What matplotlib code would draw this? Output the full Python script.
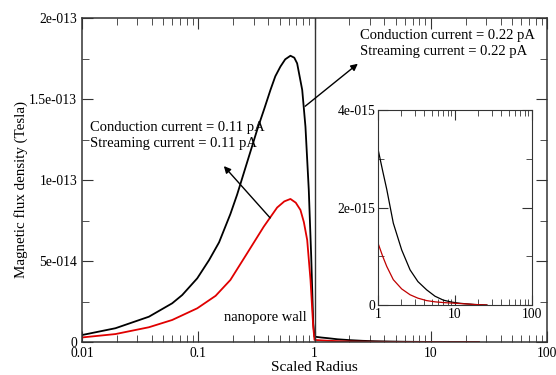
import numpy as np
import matplotlib
matplotlib.use('Agg')
import matplotlib.pyplot as plt
from matplotlib.ticker import FixedLocator, LogLocator, NullFormatter

# scaled radius inside the pore (0.01 .. 1)
r_hi_in = [0.01, 0.0194, 0.0376, 0.0597, 0.0728, 0.098, 0.124, 0.151, 0.189, 0.216,
           0.246, 0.321, 0.37, 0.418, 0.46, 0.509, 0.56, 0.621, 0.67, 0.709, 0.784,
           0.836, 0.893, 0.937, 0.975, 1.0]
b_hi_in = [0.043, 0.085, 0.156, 0.239, 0.290, 0.393, 0.506, 0.615, 0.79, 0.91,
           1.041, 1.309, 1.44, 1.556, 1.64, 1.70, 1.745, 1.767, 1.755, 1.72, 1.556,
           1.329, 0.938, 0.527, 0.115, 0.033]  # x 1e-13 T
r_lo_in = [0.01, 0.0194, 0.0376, 0.0597, 0.098, 0.141, 0.189, 0.263, 0.366, 0.477,
           0.55, 0.621, 0.69, 0.757, 0.81, 0.865, 0.924, 0.975, 1.0]
b_lo_in = [0.028, 0.049, 0.091, 0.136, 0.208, 0.285, 0.383, 0.547, 0.712, 0.830,
           0.868, 0.883, 0.86, 0.815, 0.74, 0.630, 0.383, 0.095, 0.013]  # x 1e-13 T

# outside the pore (1 .. ~26), shown in the inset
r_out = [1.0, 1.15, 1.3, 1.58, 2.03, 2.61, 3.3, 4.29, 5.5, 7.05, 9.0, 11.6, 18.0, 25.9]
b_hi_out = [3.20, 2.75, 2.37, 1.68, 1.13, 0.72, 0.48, 0.31, 0.18, 0.10, 0.06, 0.035,
            0.01, 0.0]  # x 1e-15 T
b_lo_out = [1.27, 1.0, 0.79, 0.52, 0.33, 0.21, 0.14, 0.09, 0.065, 0.05, 0.04, 0.03,
            0.01, 0.0]  # x 1e-15 T

xticks = [0.01, 0.1, 1, 10, 100]
xticklabels = ['0.01', '0.1', '1', '10', '100']
yticks = [0, 5e-14, 1e-13, 1.5e-13, 2e-13]
yticklabels = ['0', '5e-014', '1e-013', '1.5e-013', '2e-013']
inset_yticks = [0, 2e-15, 4e-15]
inset_yticklabels = ['0', '2e-015', '4e-015']

plt.rcParams['font.family'] = ['Liberation Serif', 'DejaVu Serif']

fig = plt.figure(figsize=(5.56, 3.75), dpi=100)
W, H = 556.0, 375.0
ax = fig.add_axes([82/W, 1-342/H, (547-82)/W, (342-18)/H])

hi_r = np.array(r_hi_in + r_out[1:])
hi_b = np.array([v*1e-13 for v in b_hi_in] + [v*1e-15 for v in b_hi_out[1:]])
lo_r = np.array(r_lo_in + r_out[1:])
lo_b = np.array([v*1e-13 for v in b_lo_in] + [v*1e-15 for v in b_lo_out[1:]])

ax.plot(hi_r, hi_b, color='black', lw=1.3)
ax.plot(lo_r, lo_b, color='#e00000', lw=1.3)
ax.axvline(1.0, color='#333333', lw=1.0)

ax.set_xscale('log')
ax.set_xlim(0.01, 100)
ax.set_ylim(0, 2e-13)
ax.set_xticks(xticks)
ax.set_xticklabels(xticklabels)
ax.xaxis.set_minor_locator(LogLocator(base=10, subs=np.arange(2, 10)))
ax.xaxis.set_minor_formatter(NullFormatter())
ax.set_yticks(yticks)
ax.set_yticklabels(yticklabels)
ax.yaxis.set_minor_locator(FixedLocator([2.5e-14, 7.5e-14, 1.25e-13, 1.75e-13]))
ax.tick_params(which='both', direction='in', top=True, right=True, labelsize=9.8,
               color='#333333')
ax.tick_params(which='major', length=8)
ax.tick_params(which='minor', length=5)
for s in ax.spines.values():
    s.set_color('#333333')
    s.set_linewidth(1.1)
ax.set_xlabel('Scaled Radius', fontsize=11, labelpad=1)
ax.set_ylabel('Magnetic flux density (Tesla)', fontsize=10.8)
ax.yaxis.set_label_coords(-0.116, 0.47)

fs = 10.5
fig.text(224/W, 1-317/H, 'nanopore wall', fontsize=fs, va='center')

ax.annotate('', xy=(222/W, 1-164/H), xytext=(272/W, 1-220/H),
            xycoords='figure fraction', textcoords='figure fraction',
            arrowprops=dict(arrowstyle='-|>', color='black', lw=1.0, mutation_scale=10))
fig.text(90/W, 1-128/H, 'Conduction current = 0.11 pA', fontsize=fs, va='center')
fig.text(90/W, 1-143/H, 'Streaming current = 0.11 pA', fontsize=fs, va='center')
ax.annotate('', xy=(360/W, 1-62/H), xytext=(303/W, 1-108/H),
            xycoords='figure fraction', textcoords='figure fraction',
            arrowprops=dict(arrowstyle='-|>', color='black', lw=1.0, mutation_scale=10))
fig.text(360/W, 1-36/H, 'Conduction current = 0.22 pA', fontsize=fs, va='center')
fig.text(360/W, 1-52/H, 'Streaming current = 0.22 pA', fontsize=fs, va='center')

# inset
ins = fig.add_axes([378/W, 1-305/H, (532-378)/W, (305-110)/H])
ins.plot(r_out, [v*1e-15 for v in b_hi_out], color='black', lw=0.9)
ins.plot(r_out, [v*1e-15 for v in b_lo_out], color='#c00000', lw=0.9)
ins.set_xscale('log')
ins.set_xlim(1, 100)
ins.set_ylim(0, 4e-15)
ins.set_xticks([1, 10, 100])
ins.set_xticklabels(['1', '10', '100'])
ins.xaxis.set_minor_locator(LogLocator(base=10, subs=np.arange(2, 10)))
ins.xaxis.set_minor_formatter(NullFormatter())
ins.set_yticks(inset_yticks)
ins.set_yticklabels(inset_yticklabels)
ins.yaxis.set_minor_locator(FixedLocator([1e-15, 3e-15]))
ins.tick_params(which='both', direction='in', top=True, right=True, labelsize=9.8,
                color='#333333', pad=2)
ins.tick_params(which='major', length=7)
ins.tick_params(which='minor', length=4)
for s in ins.spines.values():
    s.set_color('#333333')

fig.savefig('out.png', dpi=100)
